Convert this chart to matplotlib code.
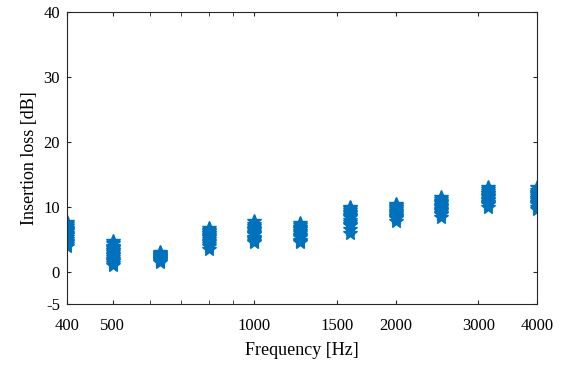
import matplotlib
matplotlib.use("Agg")
import matplotlib.pyplot as plt
from matplotlib.ticker import FixedLocator, NullFormatter

plt.rcParams.update(
    {
        "font.family": ["Liberation Serif", "DejaVu Serif"],
        "font.size": 12,
        "xtick.direction": "in",
        "ytick.direction": "in",
        "xtick.top": True,
        "ytick.right": True,
    }
)

# third-octave band centres [Hz]
bands = [400, 500, 630, 800, 1000, 1250, 1600, 2000, 2500, 3150, 4000]

# insertion loss samples per band [dB]
il_400 = [4.0, 4.5, 5.0, 5.3, 5.6, 6.0, 6.2, 6.5, 6.8, 7.0, 7.3, 7.6, 4.8, 5.8, 6.6, 4.2]
il_500 = [1.0, 1.4, 1.8, 2.2, 2.6, 3.0, 3.3, 3.6, 4.0, 4.4, 4.8, 2.0, 2.8, 3.4, 1.6, 3.8]
il_630 = [1.5, 1.7, 1.9, 2.1, 2.3, 2.5, 2.7, 2.9, 3.0, 2.0, 2.4, 2.6, 1.8, 2.2]
il_800 = [3.5, 4.0, 4.5, 5.0, 5.3, 5.6, 5.9, 6.2, 6.5, 6.8, 4.8, 5.5, 6.0, 4.2]
il_1000 = [4.5, 5.0, 5.4, 5.8, 6.1, 6.4, 6.7, 7.0, 7.4, 7.8, 5.2, 6.0, 6.6, 4.8]
il_1250 = [4.5, 4.9, 5.3, 5.7, 6.0, 6.3, 6.6, 6.9, 7.2, 7.5, 5.5, 6.2, 6.8, 4.7]
il_1600 = [6.0, 6.6, 7.2, 7.6, 8.0, 8.4, 8.8, 9.2, 9.5, 9.8, 10.0, 7.4, 8.6, 9.0]
il_2000 = [7.8, 8.2, 8.6, 9.0, 9.3, 9.6, 9.9, 10.2, 10.5, 8.4, 9.4, 10.0, 8.8, 9.1]
il_2500 = [8.5, 8.9, 9.3, 9.7, 10.0, 10.3, 10.6, 10.9, 11.2, 11.5, 9.5, 10.1, 10.8, 9.0]
il_3150 = [10.0, 10.4, 10.8, 11.2, 11.5, 11.8, 12.1, 12.4, 12.7, 13.0, 11.0, 11.6, 12.2, 10.6]
il_4000 = [9.6, 10.0, 10.4, 10.8, 11.1, 11.4, 11.7, 12.0, 12.3, 12.6, 13.0, 10.6, 11.3, 12.2]

samples = [il_400, il_500, il_630, il_800, il_1000, il_1250,
           il_1600, il_2000, il_2500, il_3150, il_4000]

xticks = [400, 500, 1000, 1500, 2000, 3000, 4000]
yticks = [-5, 0, 10, 20, 30, 40]

fig = plt.figure(figsize=(5.63, 3.66), dpi=100)
ax = fig.add_axes([0.119, 0.169, 0.835, 0.798])

for f, vals in zip(bands, samples):
    ax.plot([f] * len(vals), vals, linestyle="none", marker="*",
            markersize=10, color="#0072BD", markeredgewidth=1.0)

ax.set_xscale("log")
ax.set_xlim(400, 4000)
ax.set_ylim(-5, 40)
ax.xaxis.set_major_locator(FixedLocator(xticks))
ax.set_xticklabels([str(t) for t in xticks])
ax.xaxis.set_minor_locator(FixedLocator([600, 700, 800, 900]))
ax.xaxis.set_minor_formatter(NullFormatter())
ax.set_yticks(yticks)
ax.set_yticklabels([str(t) for t in yticks])
ax.tick_params(which="both", color="#262626", length=3)
ax.tick_params(axis="x", pad=10)
ax.tick_params(axis="y", pad=5)
for s in ax.spines.values():
    s.set_color("#262626")
    s.set_linewidth(0.8)
ax.set_xlabel("Frequency [Hz]", fontsize=13, labelpad=6)
ax.set_ylabel("Insertion loss [dB]", fontsize=13, labelpad=4)

fig.savefig("out.png", dpi=100)
